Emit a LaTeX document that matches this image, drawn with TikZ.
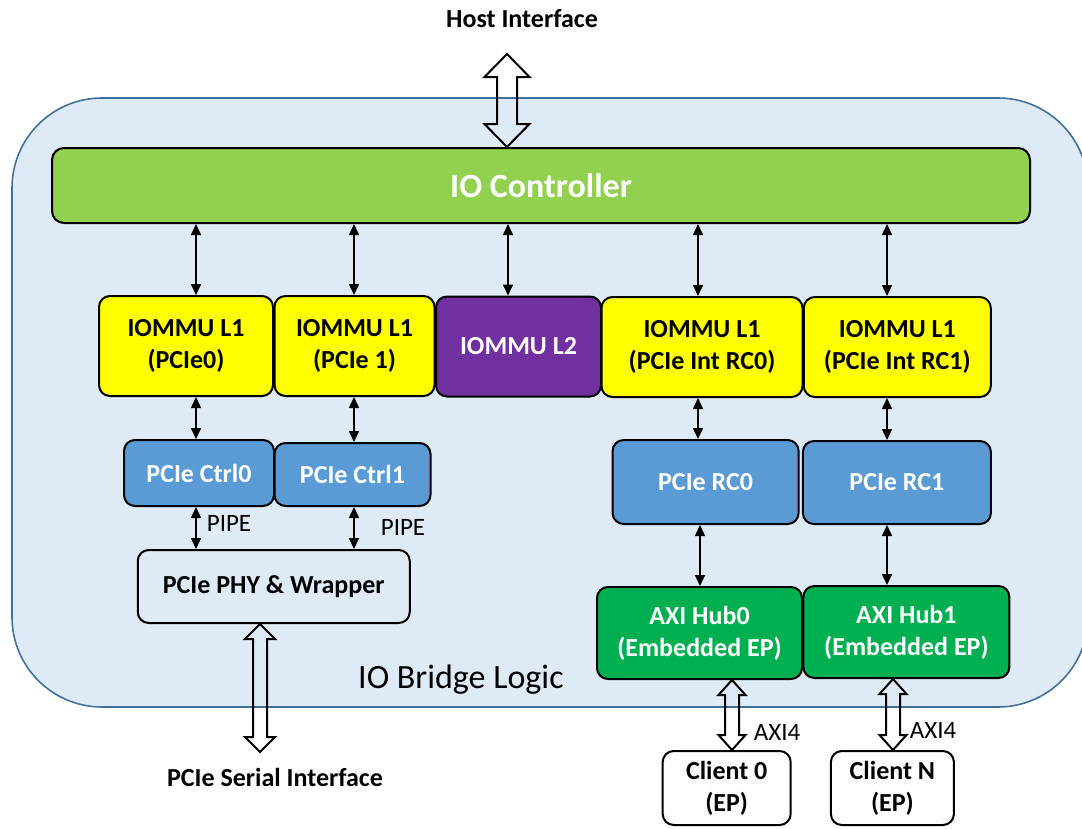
\documentclass[tikz,border=0pt]{standalone}
\usepackage{fontspec}
\setmainfont{Carlito}
\usetikzlibrary{arrows.meta,calc}

\definecolor{bridgefill}{RGB}{222,234,246}
\definecolor{bridgeline}{RGB}{65,113,156}
\definecolor{ctrlgreen}{RGB}{146,208,80}
\definecolor{mmuyellow}{RGB}{255,255,0}
\definecolor{mmupurple}{RGB}{112,48,160}
\definecolor{pcieblue}{RGB}{91,155,213}
\definecolor{hubgreen}{RGB}{0,176,80}

% hollow two-headed bus arrow: #1 top end, #2 bottom end (same x),
% #3 half shaft width, #4 half head width, #5 head length
\newcommand{\hollowarrow}[5]{%
  \draw[bigarrow] let \p1=(#1), \p2=(#2) in
    (\x1,\y1) -- (\x1+#4pt,\y1-#5pt) -- (\x1+#3pt,\y1-#5pt)
    -- (\x1+#3pt,\y2+#5pt) -- (\x1+#4pt,\y2+#5pt) -- (\x1,\y2)
    -- (\x1-#4pt,\y2+#5pt) -- (\x1-#3pt,\y2+#5pt)
    -- (\x1-#3pt,\y1-#5pt) -- (\x1-#4pt,\y1-#5pt) -- cycle;}

\tikzset{
  blk/.style={draw=black, line width=2pt, rounded corners=11pt, inner sep=0pt,
    align=center, font=\fontsize{26}{32}\selectfont\bfseries},
  lightblk/.style={blk, text=white},
  link/.style={line width=1.6pt,
    {Triangle[length=11pt,width=10pt]}-{Triangle[length=11pt,width=10pt]}},
  bigarrow/.style={draw=black, line width=2pt, line join=miter},
  title/.style={font=\fontsize{26}{32}\selectfont\bfseries, inner sep=0pt},
  buslabel/.style={font=\fontsize{25}{30}\selectfont, inner sep=0pt},
}

\begin{document}
\begin{tikzpicture}[x=1pt,y=-1pt]
\useasboundingbox (0,0) rectangle (1082,828);

% enclosing IO bridge block
\node[draw=bridgeline, fill=bridgefill, line width=1.6pt, rounded corners=90pt,
      minimum width=1076pt, minimum height=609pt, inner sep=0pt] (bridge) at (550,402.5) {};
\node[font=\fontsize{34}{40}\selectfont, anchor=west, inner sep=0pt] (bridgelbl) at (358,680) {IO Bridge Logic};

% blocks
\node[lightblk, fill=ctrlgreen, rounded corners=12pt, minimum width=978pt, minimum height=75pt,
      font=\fontsize{34}{40}\selectfont\bfseries] (ioc) at (541,185.5) {IO Controller};

\node[blk, fill=mmuyellow, minimum width=174pt, minimum height=100pt] (mmu0) at (186,346) {IOMMU L1\\(PCIe0)};
\node[blk, fill=mmuyellow, minimum width=160pt, minimum height=100pt] (mmu1) at (354.5,346) {IOMMU L1\\(PCIe 1)};
\node[lightblk, fill=mmupurple, minimum width=165pt, minimum height=100pt] (mmu2) at (518.5,346.5) {IOMMU L2};
\node[blk, fill=mmuyellow, minimum width=201pt, minimum height=100pt] (mmu3) at (702,347) {IOMMU L1\\(PCIe Int RC0)};
\node[blk, fill=mmuyellow, minimum width=187pt, minimum height=100pt] (mmu4) at (897.3,347) {IOMMU L1\\(PCIe Int RC1)};

\node[lightblk, fill=pcieblue, minimum width=150pt, minimum height=66pt] (ctrl0) at (199,473) {PCIe Ctrl0};
\node[lightblk, fill=pcieblue, minimum width=156pt, minimum height=63pt] (ctrl1) at (352.5,474.5) {PCIe Ctrl1};
\node[blk, fill=bridgefill, minimum width=272pt, minimum height=73pt] (phy) at (273.75,586.5) {PCIe PHY \& Wrapper};

\node[lightblk, fill=pcieblue, minimum width=186pt, minimum height=84pt] (rc0) at (705.6,482) {PCIe RC0};
\node[lightblk, fill=pcieblue, minimum width=188pt, minimum height=83pt] (rc1) at (896.9,482.5) {PCIe RC1};

\node[lightblk, fill=hubgreen, minimum width=205pt, minimum height=92pt] (hub0) at (699.5,633) {AXI Hub0\\(Embedded EP)};
\node[lightblk, fill=hubgreen, minimum width=206pt, minimum height=92pt] (hub1) at (906.4,632) {AXI Hub1\\(Embedded EP)};

\node[blk, fill=white, minimum width=128pt, minimum height=74pt] (cl0) at (726.7,788) {Client 0\\(EP)};
\node[blk, fill=white, minimum width=123pt, minimum height=74pt] (clN) at (892.4,788) {Client N\\(EP)};

% external interface labels
\node[title] (hostlbl) at (522,19) {Host Interface};
\node[title] (serlbl) at (275,777) {PCIe Serial Interface};

% connector columns
\coordinate (c1) at (196,0);
\coordinate (c2) at (354,0);
\coordinate (c3) at (508,0);
\coordinate (c4) at (698,0);
\coordinate (c5) at (887,0);
\coordinate (c6) at (700,0);

\draw[link] (ioc.south -| c1) -- (mmu0.north -| c1);
\draw[link] (ioc.south -| c2) -- (mmu1.north -| c2);
\draw[link] (ioc.south -| c3) -- (mmu2.north -| c3);
\draw[link] (ioc.south -| c4) -- (mmu3.north -| c4);
\draw[link] (ioc.south -| c5) -- (mmu4.north -| c5);

\draw[link] (mmu0.south -| c1) -- (ctrl0.north -| c1);
\draw[link] (mmu1.south -| c2) -- (ctrl1.north -| c2);
\draw[link] (mmu3.south -| c4) -- (rc0.north -| c4);
\draw[link] (mmu4.south -| c5) -- (rc1.north -| c5);

\draw[link] (ctrl0.south -| c1) -- (phy.north -| c1);
\draw[link] (ctrl1.south -| c2) -- (phy.north -| c2);
\node[buslabel] (pipe0) at (229,523) {PIPE};
\node[buslabel] (pipe1) at (403,527) {PIPE};

\draw[link] (rc0.south -| c6) -- (hub0.north -| c6);
\draw[link] (rc1.south -| c5) -- (hub1.north -| c5);

% wide bus arrows
\coordinate (hosttop) at (507,54);
\coordinate (hostbot) at (ioc.north -| hosttop);
\hollowarrow{hosttop}{hostbot}{10}{22.5}{23}

\coordinate (serx) at (260,0);
\coordinate (sertop) at (phy.south -| serx);
\coordinate (serbot) at (260,752);
\hollowarrow{sertop}{serbot}{7}{15}{15}

\coordinate (ax0) at (732,0);
\coordinate (ax1) at (893,0);
\coordinate (ax0top) at (hub0.south -| ax0);
\coordinate (ax0bot) at (cl0.north -| ax0);
\coordinate (ax1top) at (hub1.south -| ax1);
\coordinate (ax1bot) at (clN.north -| ax1);
\hollowarrow{ax0top}{ax0bot}{7}{13.5}{15}
\hollowarrow{ax1top}{ax1bot}{7}{13.5}{15}
\node[buslabel] (axi0) at (777,732) {AXI4};
\node[buslabel] (axi1) at (933,730) {AXI4};

\end{tikzpicture}
\end{document}
